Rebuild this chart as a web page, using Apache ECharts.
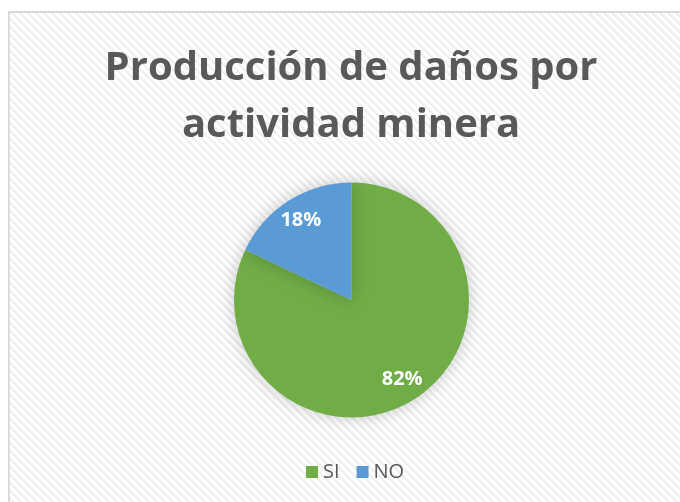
<!DOCTYPE html>
<html>
<head>
<meta charset="utf-8">
<script src="https://cdn.jsdelivr.net/npm/echarts@6/dist/echarts.min.js"></script>
<style>
  html, body { margin: 0; padding: 0; background: #fff; }
  #wrap {
    position: absolute; left: 0; top: 0; width: 680px; height: 502px; overflow: hidden;
  }
  /* area del gráfico con borde y fondo rayado */
  #bg {
    position: absolute; left: 8px; top: 11px; width: 700px; height: 520px;
    border-left: 2px solid #d9d9d9; border-top: 2px solid #d9d9d9;
    background: repeating-linear-gradient(45deg, #efefef 0 2.4px, #ffffff 2.4px 5.66px);
  }
  #chart { position: absolute; left: 0; top: 0; width: 680px; height: 502px; }
</style>
</head>
<body>
<div id="wrap">
  <div id="bg"></div>
  <div id="chart"></div>
</div>
<script>
// datos
const categories = ["SI", "NO"];
const values = [82, 18];
const colors = ["#70AD47", "#5B9BD5"];

const pieData = categories.map((name, i) => ({
  name: name,
  value: values[i],
  itemStyle: { color: colors[i] }
}));

const myChart = echarts.init(document.getElementById("chart"), null, { renderer: "canvas" });

const option = {
  backgroundColor: "transparent",
  animation: false,
  title: {
    text: "Producción de daños por\nactividad minera",
    left: 346,
    top: 35,
    textAlign: "center",
    textStyle: {
      fontFamily: "Open Sans",
      fontWeight: "bold",
      fontSize: 40,
      lineHeight: 57,
      color: "#595959"
    }
  },
  legend: {
    data: categories,
    left: 301,
    top: 457,
    icon: "rect",
    itemWidth: 12,
    itemHeight: 12,
    itemGap: 17,
    textStyle: {
      fontFamily: "Open Sans",
      fontSize: 20,
      color: "#595959"
    }
  },
  series: [
    {
      // sectores
      type: "pie",
      center: [351.5, 300],
      radius: [0, 117.5],
      startAngle: 90,
      clockwise: true,
      silent: true,
      label: { show: false },
      labelLine: { show: false },
      itemStyle: {
        shadowBlur: 18,
        shadowColor: "rgba(0,0,0,0.22)"
      },
      data: pieData
    },
    {
      // etiquetas de porcentaje (capa transparente)
      type: "pie",
      center: [351.5, 300],
      radius: [0, 183],
      startAngle: 90,
      clockwise: true,
      silent: true,
      legendHoverLink: false,
      itemStyle: { color: "transparent" },
      label: {
        show: true,
        position: "inside",
        formatter: "{d}%",
        color: "#ffffff",
        fontFamily: "Open Sans",
        fontWeight: "bold",
        fontSize: 20
      },
      labelLine: { show: false },
      data: categories.map((name, i) => ({ name: name, value: values[i] }))
    }
  ]
};

option && myChart.setOption(option);
</script>
</body>
</html>
